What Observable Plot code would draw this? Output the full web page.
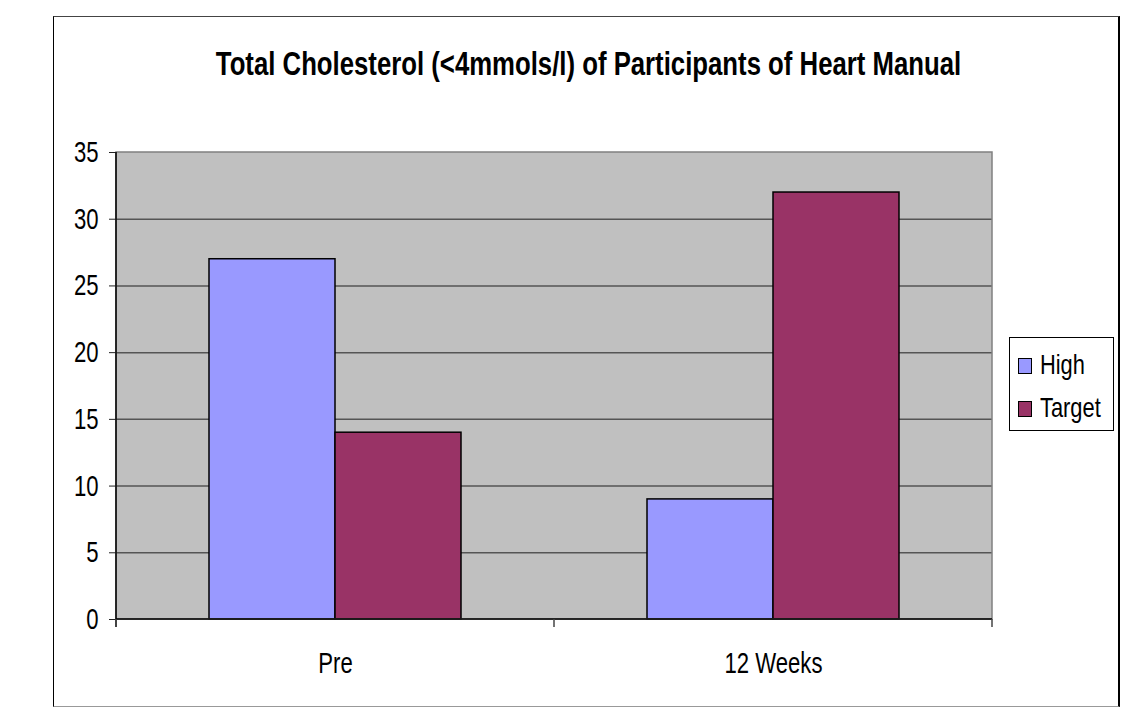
<!DOCTYPE html>
<html><head><meta charset="utf-8">
<script src="https://cdn.jsdelivr.net/npm/d3@7"></script>
<script src="https://cdn.jsdelivr.net/npm/@observablehq/plot@0.6"></script>
<style>
body{margin:0;background:#fff;}
#wrap{position:relative;width:1141px;height:707px;overflow:hidden;font-family:"Liberation Sans",Arial,sans-serif;color:#000;}
#border{position:absolute;left:53px;top:16px;width:1067px;height:691px;box-sizing:border-box;border:1.5px solid #000;border-top-color:#444;border-bottom-color:#999;border-right-width:2px;}
#title{position:absolute;left:0;width:1177px;top:46px;text-align:center;font-weight:bold;font-size:34px;line-height:34px;transform:scaleX(0.757);transform-origin:588.5px 0;white-space:nowrap;}
#chart{position:absolute;left:0;top:0;}
#legend{position:absolute;left:1009px;top:337px;width:105px;height:94px;box-sizing:border-box;border:1px solid #000;background:#fff;}
.row{position:absolute;left:8px;height:20px;}
.sw{position:absolute;left:0;top:2px;width:12px;height:14px;border:1.5px solid #000;}
.lab{position:absolute;left:22px;top:-5px;font-size:28px;line-height:28px;white-space:nowrap;transform:scaleX(0.78);transform-origin:0 0;}
</style></head>
<body>
<div id="wrap">
  <div id="border"></div>
  <div id="chart"></div>
  <div id="title">Total Cholesterol (&lt;4mmols/l) of Participants of Heart Manual</div>
  <div id="legend"></div>
</div>
<script>
const categories = ["Pre", "12 Weeks"];
const series = ["High", "Target"];
const highValues = [27, 9];
const targetValues = [14, 32];
const seriesColors = ["#9999FF", "#993366"];
const yTicks = [0, 5, 10, 15, 20, 25, 30, 35];

const data = categories.flatMap((c, i) => [
  {cat: c, series: series[0], value: highValues[i]},
  {cat: c, series: series[1], value: targetValues[i]}
]);

const K = 0.75;
const plot = Plot.plot({
  width: 1141, height: 707,
  marginLeft: 116, marginRight: 149, marginTop: 152, marginBottom: 88,
  style: {fontFamily: '"Liberation Sans", Arial, sans-serif', fontSize: "29.5px", background: "transparent", color: "#000", overflow: "visible"},
  fx: {domain: categories, padding: 0, label: null},
  x: {domain: series, paddingInner: 0, paddingOuter: 0.73, axis: null},
  y: {domain: [0, 35], axis: null},
  color: {domain: series, range: seriesColors},
  marks: [
    Plot.ruleY(yTicks.slice(1, -1), {stroke: "#555", strokeWidth: 1.5}),
    Plot.barY(data, {fx: "cat", x: "series", y: "value", fill: "series", stroke: "#000", strokeWidth: 1.5}),
    Plot.axisY({ticks: yTicks, tickSize: 7, tickPadding: 11, label: null, stroke: "#222"}),
    Plot.axisFx({anchor: "bottom", tickSize: 0, tickPadding: 33, label: null})
  ]
});
document.getElementById("chart").appendChild(plot);

const svg = d3.select(plot);
svg.selectAll("text").each(function() {
  const t = this.getAttribute("transform") || "";
  const x = +this.getAttribute("x") || 0;
  this.setAttribute("transform", `${t} translate(${x},0) scale(${K},1) translate(${-x},0)`);
});

const fx = plot.scale("fx"), y = plot.scale("y");
const x0 = fx.apply(categories[0]);
const x1 = fx.apply(categories[categories.length - 1]) + fx.bandwidth;
const yTop = y.apply(yTicks[yTicks.length - 1]);
const yBot = y.apply(0);
// plot-area background, behind everything
svg.insert("rect", ":first-child").attr("x", x0).attr("y", yTop).attr("width", x1 - x0).attr("height", yBot - yTop)
  .attr("fill", "#c0c0c0");
const g = svg.append("g");
g.append("rect").attr("x", x0).attr("y", yTop).attr("width", x1 - x0).attr("height", yBot - yTop)
  .attr("fill", "none").attr("stroke", "#808080").attr("stroke-width", 1.5);
g.append("line").attr("x1", x0).attr("x2", x0).attr("y1", yTop).attr("y2", yBot + 8)
  .attr("stroke", "#000").attr("stroke-width", 1.5);
g.append("line").attr("x1", x0).attr("x2", x1).attr("y1", yBot).attr("y2", yBot)
  .attr("stroke", "#000").attr("stroke-width", 1.5);
const bounds = categories.map(c => fx.apply(c)).concat([x1]);
bounds.forEach(b => g.append("line").attr("x1", b).attr("x2", b).attr("y1", yBot).attr("y2", yBot + 8)
  .attr("stroke", "#444").attr("stroke-width", 1.5));

const legend = document.getElementById("legend");
series.forEach((s, i) => {
  const row = document.createElement("div");
  row.className = "row";
  row.style.top = (18 + i * 43) + "px";
  row.innerHTML = `<div class="sw" style="background:${seriesColors[i]}"></div><div class="lab">${s}</div>`;
  legend.appendChild(row);
});
</script>
</body></html>
